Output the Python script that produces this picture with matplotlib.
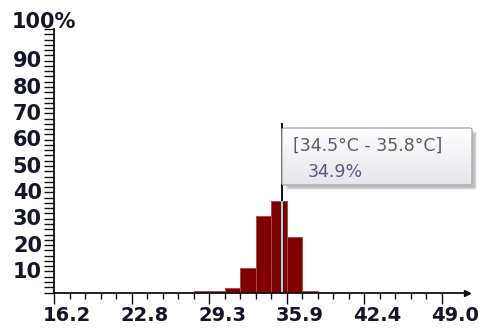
import numpy as np
import matplotlib
matplotlib.use("Agg")
import matplotlib.pyplot as plt
from matplotlib.transforms import ScaledTranslation
from matplotlib.patches import FancyBboxPatch
from matplotlib.ticker import MultipleLocator, FixedLocator

# Temperature histogram: 25 equal bins between the min and max reading
t_min = 16.2
t_max = 49.0
n_bins = 25
share_pct = [0, 0, 0, 0, 0, 0, 0, 0, 0,
             0.4, 0.4, 1.6, 9.3, 29.0, 34.9, 21.2, 0.4,
             0, 0, 0, 0, 0, 0, 0, 0]
y_tick_values = [10, 20, 30, 40, 50, 60, 70, 80, 90]

# Hover tooltip content
hover_bin = 14
hover_x = 35.45
tip_range = "[34.5°C - 35.8°C]"
tip_value = "34.9%"

edges = np.linspace(t_min, t_max, n_bins + 1)
bin_w = edges[1] - edges[0]
vals = np.array(share_pct, dtype=float)

W, H, DPI = 485, 329, 100
fig = plt.figure(figsize=(W / DPI, H / DPI), dpi=DPI)
fig.patch.set_facecolor("white")

ax_left, ax_right, ax_bottom, ax_top = 54, 467, 292.5, 29
ax = fig.add_axes([ax_left / W, 1 - ax_bottom / H,
                   (ax_right - ax_left) / W, (ax_bottom - ax_top) / H])
ax.set_facecolor("white")

x_hi = t_min + (ax_right - ax_left) / ((442 - 54) / (t_max - t_min))
ax.set_xlim(t_min, x_hi)
ax.set_ylim(0, 100)

nz = vals > 0
ax.bar(edges[:-1][nz], vals[nz], width=bin_w, align="edge",
       color="#800000", edgecolor="#b04a4a", linewidth=0.7, zorder=2)

# cursor line: inverted colour over the bar, black above it
line_top = (ax_bottom - 123) / (ax_bottom - ax_top) * 100
ax.plot([hover_x, hover_x], [0, vals[hover_bin]], color="#86e6f2",
        lw=1.4, zorder=3, solid_capstyle="butt")
ax.plot([hover_x, hover_x], [vals[hover_bin], line_top], color="#111111",
        lw=1.4, zorder=3, solid_capstyle="butt", clip_on=False)

for s in ("top", "right"):
    ax.spines[s].set_visible(False)
for s in ("left", "bottom"):
    ax.spines[s].set_linewidth(1.3)
    ax.spines[s].set_color("#111111")
    ax.spines[s].set_zorder(4)

# arrow head at the end of the x axis
ax.plot([1.0], [0.0], marker=">", markersize=5, color="#111111",
        transform=ax.transAxes, clip_on=False, zorder=5)

label_font = dict(family="DejaVu Sans", weight="bold", size=15)
xlabel_font = dict(family="DejaVu Sans", weight="bold", size=14)
label_color = "#15152a"

# x ticks
ax.xaxis.set_major_locator(FixedLocator(edges[::5]))
ax.xaxis.set_minor_locator(FixedLocator(edges))
ax.set_xticklabels([f"{v:.1f}" for v in edges[::5]], fontdict=xlabel_font,
                   color=label_color)
ax.tick_params(axis="x", which="major", direction="out", length=8,
               width=1.0, color="#111111", pad=2)
ax.tick_params(axis="x", which="minor", direction="out", length=4.3,
               width=1.0, color="#111111")
xoff = ScaledTranslation(13 / DPI, 0, fig.dpi_scale_trans)
for lab in ax.get_xticklabels():
    lab.set_transform(lab.get_transform() + xoff)

# y ticks
ax.yaxis.set_major_locator(FixedLocator(y_tick_values))
ax.yaxis.set_minor_locator(MultipleLocator(2))
ax.set_yticklabels([str(v) for v in y_tick_values], fontdict=label_font,
                   color=label_color)
ax.tick_params(axis="y", which="both", direction="out", length=7.2,
               width=1.0, color="#111111", pad=1.5)
yoff = ScaledTranslation(0, -4 / DPI, fig.dpi_scale_trans)
for lab in ax.get_yticklabels():
    lab.set_transform(lab.get_transform() + yoff)

fig.text(12 / W, 1 - 22 / H, "100%", ha="left", va="center",
         color=label_color, zorder=6, **label_font)

# tooltip box with soft shadow and vertical gradient
bx0, bx1, by0, by1 = 282, 472, 128, 185


def fig_box(x0, y0, x1, y1):
    return (x0 / W, 1 - y1 / H, (x1 - x0) / W, (y1 - y0) / H)


for k, a in enumerate([0.10, 0.14, 0.18]):
    d = 5 - k
    x, y, w, h = fig_box(bx0 + 3 + k, by0 + 3 + k, bx1 + d, by1 + d)
    fig.patches.append(FancyBboxPatch((x, y), w, h,
                                      boxstyle="round,pad=0,rounding_size=0.006",
                                      transform=fig.transFigure,
                                      facecolor="#555555", edgecolor="none",
                                      alpha=a, zorder=7))
x, y, w, h = fig_box(bx0, by0, bx1, by1)
box = FancyBboxPatch((x, y), w, h, boxstyle="round,pad=0,rounding_size=0.006",
                     transform=fig.transFigure, facecolor="none",
                     edgecolor="#a8a8b0", linewidth=1.0, zorder=9)
fig.patches.append(box)
grad_ax = fig.add_axes([x, y, w, h], zorder=8)
grad_ax.axis("off")
g = np.linspace(0, 1, 64).reshape(-1, 1)
top_c = np.array([1.0, 1.0, 1.0])
bot_c = np.array([0.90, 0.90, 0.92])
img = top_c * (1 - g)[..., None] + bot_c * g[..., None]
grad_ax.imshow(img, aspect="auto", extent=(0, 1, 0, 1), origin="upper")
grad_ax.set_xlim(0, 1)
grad_ax.set_ylim(0, 1)

tip_color = "#5e5878"
fig.text(293 / W, 1 - 146 / H, tip_range, ha="left", va="center",
         family="DejaVu Sans", size=12.5, color=tip_color, zorder=10)
fig.text(308 / W, 1 - 172 / H, tip_value, ha="left", va="center",
         family="DejaVu Sans", size=12.5, color=tip_color, zorder=10)

fig.savefig("out.png", dpi=DPI, facecolor="white")
